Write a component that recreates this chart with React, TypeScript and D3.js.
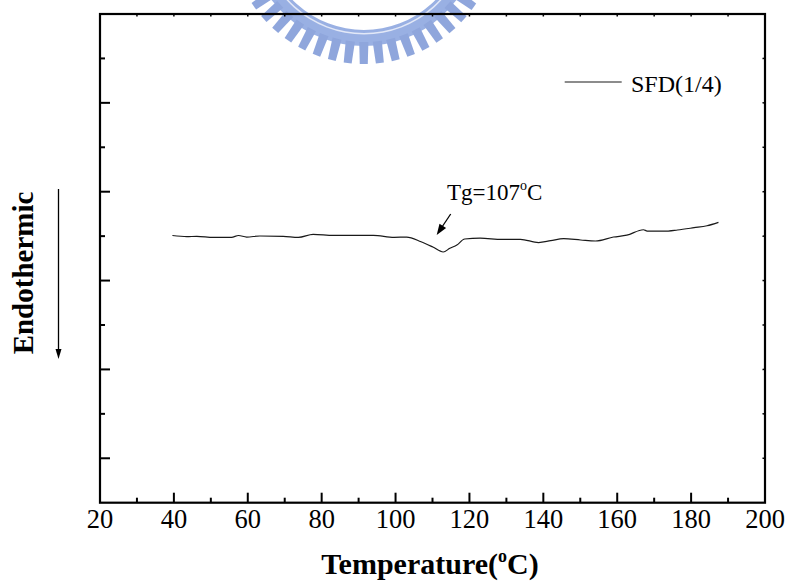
import React from "react";
import * as d3 from "d3";

// DSC trace of SFD(1/4): temperature (°C) vs. heat flow (arb. units)
const temperature = [
  39.6, 43.5, 46.2, 50.7, 55.6, 57.5, 59.7, 63.3, 69.6, 73.7, 77.7, 83.2, 94.0,
  99.6, 103.0, 106.9, 110.1, 112.9, 114.7, 116.6, 118.7, 122.9, 128.8, 133.8,
  138.7, 142.0, 145.5, 150.1, 154.1, 159.0, 162.6, 167.1, 168.1, 172.6, 176.3,
  180.8, 184.3, 187.4,
];
const heatFlow = [
  6.014, 5.988, 5.996, 5.973, 5.973, 6.014, 5.98, 6.003, 5.996, 5.973, 6.041,
  6.018, 6.018, 5.973, 5.98, 5.874, 5.755, 5.643, 5.726, 5.8, 5.935, 5.953,
  5.928, 5.928, 5.856, 5.897, 5.942, 5.913, 5.89, 5.98, 6.021, 6.144, 6.115,
  6.111, 6.138, 6.19, 6.234, 6.311,
];

const xMajorTicks = [20, 40, 60, 80, 100, 120, 140, 160, 180, 200];
const xMinorTicks = [30, 50, 70, 90, 110, 130, 150, 170, 190];
const xTopTicks = [30, 40, 50, 60, 70, 80, 90, 100, 110, 120, 130, 140, 150, 160, 170, 180, 190];
const yMajorTicks = [1, 3, 5, 7, 9];
const yMinorTicks = [2, 4, 6, 8, 10];
const yRightTicks = [1, 2, 3, 4, 5, 6, 7, 8, 9, 10];

const seriesName = "SFD(1/4)";
const tgLabel = "Tg=107";
const xTitle = "Temperature(";
const yTitle = "Endothermic";

const W = 788;
const H = 584;
const left = 100;
const right = 765;
const top = 14;
const bottom = 502.7;

const serif = "'Liberation Serif', 'Times New Roman', Times, serif";

function Watermark() {
  // partial circular seal with gear teeth, behind the frame
  const cx = 364;
  const cy = -70;
  const teeth: number[] = [];
  for (let a = 28; a <= 156; a += 6.9) {
    teeth.push(a);
  }
  const arc = (r0: number, r1: number) =>
    d3.arc()({ innerRadius: r0, outerRadius: r1, startAngle: Math.PI * 0.3, endAngle: Math.PI * 1.7 }) as string;
  return (
    <g transform={`translate(${cx},${cy})`} opacity={0.9}>
      <path d={arc(100, 116)} fill="#8fa8e0" />
      <path d={arc(103, 104.5)} fill="#dfe6f7" />
      {teeth.map((a) => (
        <path
          key={a}
          d="M112,-4.6 L134,-4 L134,4 L112,4.6 Z"
          fill="#839dd9"
          transform={`rotate(${a})`}
        />
      ))}
    </g>
  );
}

export default function App() {
  const x = d3.scaleLinear().domain([20, 200]).range([left, right]);
  const y = d3.scaleLinear().domain([0, 11]).range([bottom, top]);

  const points = temperature.map((t, i) => [t, heatFlow[i]] as [number, number]);
  const line = d3
    .line<[number, number]>()
    .x((d) => x(d[0]))
    .y((d) => y(d[1]))
    .curve(d3.curveMonotoneX);

  return (
    <svg
      width={W}
      height={H}
      style={{ position: "absolute", left: 0, top: 0, background: "#fff" }}
      fontFamily={serif}
    >
      <rect width={W} height={H} fill="#fff" />
      <Watermark />

      {/* frame */}
      <rect
        x={left}
        y={top}
        width={right - left}
        height={bottom - top}
        fill="none"
        stroke="#000"
        strokeWidth={2.2}
      />

      {/* bottom axis ticks */}
      {xMajorTicks.map((t) => (
        <line key={"xm" + t} x1={x(t)} x2={x(t)} y1={bottom} y2={bottom - 10} stroke="#000" strokeWidth={2} />
      ))}
      {xMinorTicks.map((t) => (
        <line key={"xn" + t} x1={x(t)} x2={x(t)} y1={bottom} y2={bottom - 5} stroke="#000" strokeWidth={2} />
      ))}
      {xTopTicks.map((t) => (
        <line key={"xt" + t} x1={x(t)} x2={x(t)} y1={top} y2={top + 2.5} stroke="#000" strokeWidth={1.5} />
      ))}

      {/* left axis ticks */}
      {yMajorTicks.map((v) => (
        <line key={"ym" + v} x1={left} x2={left + 10} y1={y(v)} y2={y(v)} stroke="#000" strokeWidth={2} />
      ))}
      {yMinorTicks.map((v) => (
        <line key={"yn" + v} x1={left} x2={left + 5} y1={y(v)} y2={y(v)} stroke="#000" strokeWidth={2} />
      ))}
      {yRightTicks.map((v) => (
        <line key={"yr" + v} x1={right} x2={right - 2.5} y1={y(v)} y2={y(v)} stroke="#000" strokeWidth={1.5} />
      ))}

      {/* tick labels */}
      {xMajorTicks.map((t) => (
        <text key={"xl" + t} x={x(t)} y={528} fontSize={26.5} textAnchor="middle" fill="#000">
          {t}
        </text>
      ))}

      {/* data curve */}
      <path d={line(points) as string} fill="none" stroke="#1a1a1a" strokeWidth={1.2} />

      {/* legend */}
      <line x1={564.7} x2={621.7} y1={82} y2={82} stroke="#1a1a1a" strokeWidth={1.2} />
      <text x={631} y={91.5} fontSize={24} fill="#000">
        {seriesName}
      </text>

      {/* Tg annotation */}
      <text x={447} y={200} fontSize={23} fill="#000">
        {tgLabel}
        <tspan fontSize={14} dy={-10}>o</tspan>
        <tspan dy={10}>C</tspan>
      </text>
      <line x1={450.7} y1={214} x2={441} y2={228.5} stroke="#000" strokeWidth={1.3} />
      <path
        d="M0,0 L-11,-4 L-11,4 Z"
        fill="#000"
        transform={`translate(436.7,235) rotate(${(Math.atan2(21, -14) * 180) / Math.PI})`}
      />

      {/* axis titles */}
      <text x={430} y={573.5} fontSize={30} fontWeight="bold" textAnchor="middle" fill="#000">
        {xTitle}
        <tspan fontSize={18} dy={-12}>o</tspan>
        <tspan dy={12}>C)</tspan>
      </text>
      <text
        transform="translate(33,273) rotate(-90)"
        fontSize={29}
        fontWeight="bold"
        textAnchor="middle"
        fill="#000"
      >
        {yTitle}
      </text>
      <line x1={58.5} y1={189} x2={58.5} y2={350} stroke="#000" strokeWidth={1.3} />
      <path d="M55.5,349 L61.5,349 L58.5,359 Z" fill="#000" />
    </svg>
  );
}
